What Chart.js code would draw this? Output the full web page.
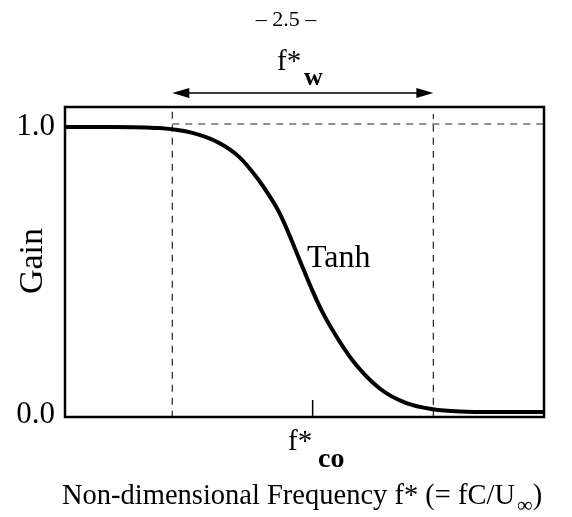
<!DOCTYPE html>
<html>
<head>
<meta charset="utf-8">
<script src="https://cdn.jsdelivr.net/npm/chart.js@4"></script>
<style>
  html, body { margin: 0; padding: 0; background: #fff; }
  #wrap { width: 572px; height: 517px; }
</style>
</head>
<body>
<div id="wrap"><canvas id="gainChart" width="572" height="517"></canvas></div>
<script>
// values (x in fractions of the plotted frequency range)
const freq = [0, 0.10, 0.197, 0.266, 0.322, 0.364, 0.400, 0.427, 0.445, 0.462, 0.480, 0.496, 0.517, 0.538, 0.559, 0.600, 0.657, 0.713, 0.768, 0.824, 0.90, 1.0];
const gain = [0.990, 0.990, 0.986, 0.969, 0.934, 0.885, 0.815, 0.750, 0.700, 0.640, 0.568, 0.503, 0.420, 0.345, 0.283, 0.180, 0.082, 0.031, 0.010, 0.002, 0.0, 0.0];
const windowEdges = [0.224, 0.769];   // f*w band
const cutoff = 0.517;                 // f*co
const yTicks = [0, 1];
const yTickLabels = ['0.0', '1.0'];

const serif = '"Liberation Serif", "DejaVu Serif", serif';

const curve = freq.map((f, i) => ({ x: f, y: gain[i] }));

// guide lines: dashed verticals at the band edges, dashed level at gain = 1
const guides = [
    [{ x: windowEdges[0], y: -0.02 }, { x: windowEdges[0], y: 1.06 }],
    [{ x: windowEdges[1], y: -0.02 }, { x: windowEdges[1], y: 1.035 }],
    [{ x: windowEdges[0], y: 1 }, { x: 1, y: 1 }]
];

const guideSets = guides.map(g => ({
    data: g,
    borderColor: '#222',
    borderWidth: 1.2,
    borderDash: [7, 6],
    pointRadius: 0,
    fill: false
}));

const decor = {
    id: 'decor',
    afterDraw(chart) {
        const ctx = chart.ctx;
        const a = chart.chartArea;
        const xs = chart.scales.x, ys = chart.scales.y;
        ctx.save();

        // frame
        ctx.strokeStyle = '#000';
        ctx.lineWidth = 2.5;
        ctx.strokeRect(a.left, a.top, a.right - a.left, a.bottom - a.top);

        // f*co tick
        const cx = xs.getPixelForValue(cutoff);
        ctx.lineWidth = 1.5;
        ctx.beginPath();
        ctx.moveTo(cx, a.bottom);
        ctx.lineTo(cx, a.bottom - 17);
        ctx.stroke();

        ctx.fillStyle = '#000';
        // y tick labels
        ctx.font = '31px ' + serif;
        ctx.textAlign = 'right';
        ctx.textBaseline = 'alphabetic';
        yTicks.forEach((v, i) => {
            ctx.fillText(yTickLabels[i], a.left - 10, ys.getPixelForValue(v) + 11);
        });

        // f*co label
        ctx.textAlign = 'left';
        ctx.font = '29px ' + serif;
        ctx.fillText('f*', 288, 450);
        ctx.font = 'bold 28px ' + serif;
        ctx.fillText('co', 318, 467);

        // x axis title
        ctx.font = '28.5px ' + serif;
        const main = 'Non-dimensional Frequency f* (= fC/U';
        const w1 = ctx.measureText(main).width;
        ctx.font = '22px ' + serif;
        const wInf = ctx.measureText('\u221E').width;
        let x0 = 62;
        ctx.font = '28.5px ' + serif;
        ctx.fillText(main, x0, 504);
        ctx.font = '22px ' + serif;
        ctx.fillText('\u221E', x0 + w1 + 2, 512);
        ctx.font = '28.5px ' + serif;
        ctx.fillText(')', x0 + w1 + wInf + 2, 504);

        // y axis title
        ctx.save();
        ctx.translate(42, 261);
        ctx.rotate(-Math.PI / 2);
        ctx.textAlign = 'center';
        ctx.font = '34px ' + serif;
        ctx.fillText('Gain', 0, 0);
        ctx.restore();

        // curve label
        ctx.font = '32px ' + serif;
        ctx.fillText('Tanh', 307, 267);

        // f*w double arrow
        const x1 = xs.getPixelForValue(windowEdges[0]);
        const x2 = xs.getPixelForValue(windowEdges[1]);
        const ay = a.top - 14;
        ctx.lineWidth = 1.5;
        ctx.beginPath();
        ctx.moveTo(x1 + 4, ay);
        ctx.lineTo(x2 - 4, ay);
        ctx.stroke();
        ctx.beginPath();
        ctx.moveTo(x1, ay);
        ctx.lineTo(x1 + 17, ay - 5);
        ctx.lineTo(x1 + 17, ay + 5);
        ctx.closePath();
        ctx.fill();
        ctx.beginPath();
        ctx.moveTo(x2, ay);
        ctx.lineTo(x2 - 17, ay - 5);
        ctx.lineTo(x2 - 17, ay + 5);
        ctx.closePath();
        ctx.fill();

        ctx.font = '29px ' + serif;
        ctx.fillText('f*', 277, 70);
        ctx.font = 'bold 26px ' + serif;
        ctx.fillText('w', 304, 85);

        // page number
        ctx.textAlign = 'center';
        ctx.font = '22px ' + serif;
        ctx.fillText('\u2013 2.5 \u2013', 286, 26);

        ctx.restore();
    }
};

new Chart(document.getElementById('gainChart').getContext('2d'), {
    type: 'line',
    data: {
        datasets: [{
            label: 'Tanh',
            data: curve,
            borderColor: '#000',
            borderWidth: 4,
            pointRadius: 0,
            cubicInterpolationMode: 'monotone',
            fill: false
        }, ...guideSets]
    },
    options: {
        responsive: false,
        animation: false,
        layout: { padding: { left: 65, right: 28, top: 107, bottom: 100 } },
        scales: {
            x: { type: 'linear', min: 0, max: 1, display: false },
            y: { min: -0.017, max: 1.059, display: false }
        },
        plugins: {
            legend: { display: false },
            tooltip: { enabled: false }
        }
    },
    plugins: [decor]
});
</script>
</body>
</html>
